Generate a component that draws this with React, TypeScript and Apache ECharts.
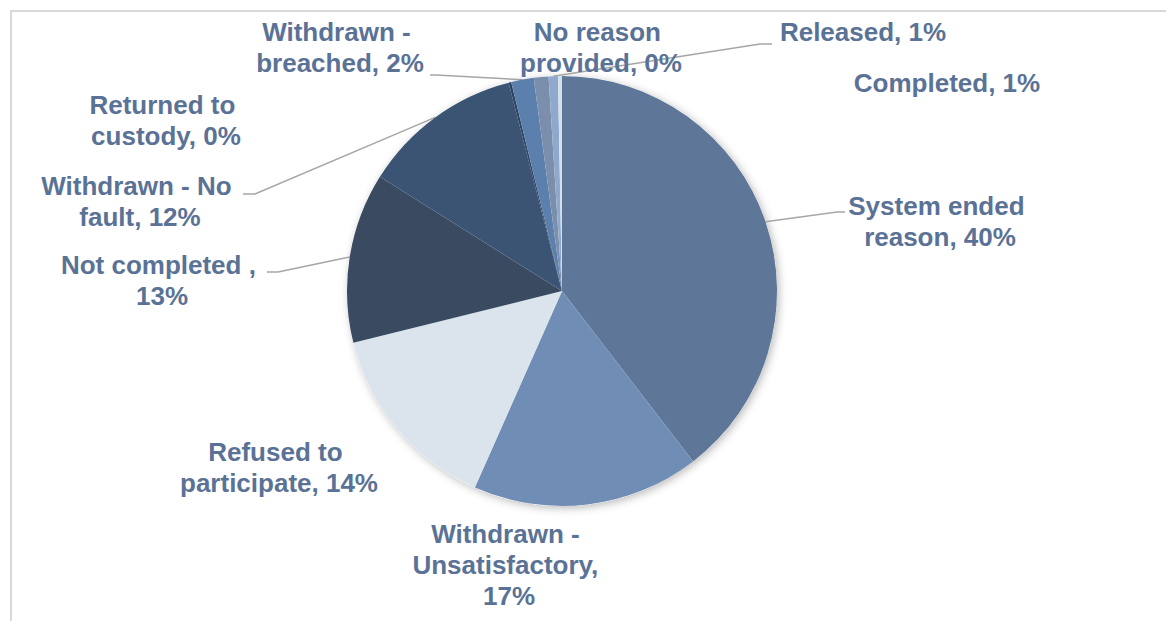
import React, { useEffect, useRef } from 'react';
import * as echarts from 'echarts';

// Categories in clockwise order from 12 o'clock
const categories = [
  'System ended reason',
  'Withdrawn - Unsatisfactory',
  'Refused to participate',
  'Not completed ',
  'Withdrawn - No fault',
  'Returned to custody',
  'Withdrawn - breached',
  'No reason provided',
  'Released',
  'Completed',
];
// Slice shares (%)
const shares = [39.6, 17.1, 14.5, 12.8, 12.1, 0.2, 1.7, 1.1, 0.7, 0.3];
// Percentages printed in the data labels
const shownPercent = [40, 17, 14, 13, 12, 0, 2, 0, 1, 1];

// Styles (not data)
const sliceColors = [
  '#5e7698', '#708eb5', '#dbe3ec', '#3a4a61', '#3b5474',
  '#2f4461', '#5b80ae', '#7b8eab', '#8fa9cd', '#d5dfec',
];
const labelCenters: [number, number][] = [
  [940, 221], [509, 565], [279, 467], [162, 280], [140, 201],
  [166, 120], [340, 47], [601, 47], [863, 32], [947, 83],
];
const labelWidths = [190, 200, 210, 205, 198, 165, 178, 172, 300, 300];
const leaderLines: ([number, number][] | null)[] = [
  [[837, 212], [845, 212]],
  null,
  null,
  [[278, 272], [267, 272]],
  [[255, 194], [243, 194]],
  null,
  [[436, 75], [430, 75]],
  null,
  [[760, 44], [772, 44]],
  null,
];

const PIE_CENTER = [562, 291];
const PIE_RADIUS = 215;
const LABEL_COLOR = '#5a7296';

export default function App() {
  const ref = useRef<HTMLDivElement>(null);
  useEffect(() => {
    if (!ref.current) return;
    const chart = echarts.init(ref.current, null, { renderer: 'svg' });
    const data = categories.map((name, i) => ({
      name,
      value: shares[i],
      itemStyle: { color: sliceColors[i] },
      label: { width: labelWidths[i] },
      labelLine: { show: leaderLines[i] != null },
    }));
    chart.setOption({
      animation: false,
      backgroundColor: '#ffffff',
      graphic: [
        {
          type: 'rect',
          shape: { x: 11, y: 11, width: 1300, height: 800 },
          style: { fill: 'none', stroke: '#d9d9d9', lineWidth: 2 },
          z: -10,
          silent: true,
        },
      ],
      series: [
        {
          type: 'pie',
          silent: true,
          center: PIE_CENTER,
          radius: PIE_RADIUS,
          z: 1,
          label: { show: false },
          labelLine: { show: false },
          data: [
            {
              value: 1,
              itemStyle: {
                color: '#ffffff',
                shadowBlur: 9,
                shadowOffsetX: 2,
                shadowOffsetY: 2,
                shadowColor: 'rgba(0,0,0,0.28)',
              },
            },
          ],
        },
        {
          type: 'pie',
          center: PIE_CENTER,
          radius: PIE_RADIUS,
          startAngle: 90,
          clockwise: true,
          z: 2,
          avoidLabelOverlap: false,
          itemStyle: { borderWidth: 0 },
          label: {
            show: true,
            position: 'outside',
            color: LABEL_COLOR,
            fontFamily: 'Liberation Sans, Arial, sans-serif',
            fontWeight: 'bold',
            fontSize: 26,
            lineHeight: 31,
            overflow: 'break',
            align: 'center',
            formatter: (p: any) => `${p.name}, ${shownPercent[p.dataIndex]}%`,
          },
          labelLine: {
            lineStyle: { color: '#a6a6a6', width: 1.5 },
          },
          labelLayout: (p: any) => {
            const i = p.dataIndex;
            const [x, y] = labelCenters[i];
            const res: any = { x, y, align: 'center', verticalAlign: 'middle' };
            const line = leaderLines[i];
            if (line && p.labelLinePoints) {
              res.labelLinePoints = [p.labelLinePoints[0], ...line];
            }
            return res;
          },
          data,
        },
      ],
    });
    return () => chart.dispose();
  }, []);
  return (
    <div
      ref={ref}
      style={{ position: 'fixed', left: 0, top: 0, width: 1166, height: 621 }}
    />
  );
}
